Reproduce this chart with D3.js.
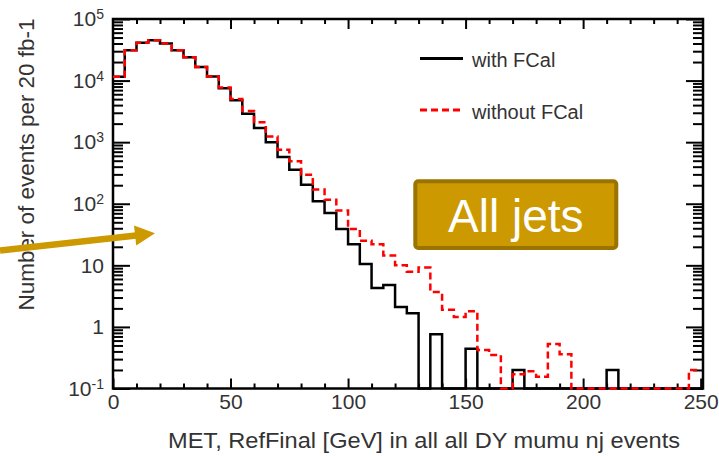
<!DOCTYPE html>
<html>
<head>
<meta charset="utf-8">
<script src="https://cdn.jsdelivr.net/npm/d3@7"></script>
<style>
body{margin:0;background:#fff;}
svg{display:block;font-family:"Liberation Sans",Arial,Helvetica,sans-serif;}
</style>
</head>
<body>
<svg id="chart" width="719" height="456"></svg>
<script>
// 5 GeV bins from 0 to 250
var binWidth = 5;
var binLow = d3.range(0, 250, binWidth);
var withFCal = [11500,31000,41000,45000,40000,31000,24000,16600,11700,7500,
                4800,2900,1700,1000,575,355,204,110,71,39,
                22,10.5,4.3,4.8,2.1,1.67,0,0.76,0,0,
                0.44,0,0,0,0.2,0,0,0,0,0,
                0,0,0.2,0,0,0,0,0,0,0];
var withoutFCal = [11500,31000,41000,45000,40000,31000,24000,16600,11700,7700,
                   5000,3200,2100,1240,755,490,296,170,116,78,
                   39,25,22,14.5,10,7.9,9.2,3.7,1.9,1.45,
                   1.8,0.42,0.35,0,0.17,0.19,0.155,0.53,0.36,0,
                   0,0,0,0,0,0,0,0,0,0.2];
var seriesNames = ["with FCal", "without FCal"];
var xTicks = [0, 50, 100, 150, 200, 250];
var xMinor = [10,20,30,40,60,70,80,90,110,120,130,140,160,170,180,190,210,220,230,240];
var yTicks = [0.1, 1, 10, 100, 1000, 10000, 100000];
var yTickLabels = [["10","-1"],["1",""],["10",""],["10","2"],["10","3"],["10","4"],["10","5"]];
var xTitle = "MET, RefFinal [GeV] in all all DY mumu nj events";
var yTitle = "Number of events per 20 fb-1";
var boxLabel = "All jets";

var plotL = 113, plotR = 703, plotT = 19, plotB = 388.5;
var gold = "#cc9900";

var svg = d3.select("#chart");

var x = d3.scaleLinear().domain([0, 251]).range([plotL, plotR]);
var y = d3.scaleLog().domain([0.1, 100000]).range([plotB, plotT]);

var yMinor = [];
for (var i = 0; i < yTicks.length - 1; i++) {
    for (var k = 2; k < 10; k++) yMinor.push(yTicks[i] * k);
}

function styleAxis(g) {
    g.select(".domain").remove();
    g.selectAll(".tick line").attr("stroke", "#000").attr("stroke-width", 2);
    g.selectAll(".tick text").attr("fill", "#333").attr("font-size", 21)
        .attr("font-family", "'Liberation Sans',Arial,sans-serif");
}

// bottom
svg.append("g").attr("transform", "translate(0," + plotB + ")")
    .call(d3.axisBottom(x).tickValues(xMinor).tickSize(-5).tickFormat(""))
    .call(styleAxis);
svg.append("g").attr("transform", "translate(0," + plotB + ")")
    .call(d3.axisBottom(x).tickValues(xTicks).tickSize(-10).tickPadding(6).tickFormat(d3.format("d")))
    .call(styleAxis);
// top
svg.append("g").attr("transform", "translate(0," + plotT + ")")
    .call(d3.axisTop(x).tickValues(xMinor).tickSize(-5).tickFormat(""))
    .call(styleAxis);
svg.append("g").attr("transform", "translate(0," + plotT + ")")
    .call(d3.axisTop(x).tickValues(xTicks.slice(1, -1)).tickSize(-10).tickFormat(""))
    .call(styleAxis);
// left
svg.append("g").attr("transform", "translate(" + plotL + ",0)")
    .call(d3.axisLeft(y).tickValues(yMinor).tickSize(-10).tickFormat(""))
    .call(styleAxis);
var yAx = svg.append("g").attr("transform", "translate(" + plotL + ",0)")
    .call(d3.axisLeft(y).tickValues(yTicks).tickSize(-17).tickPadding(9).tickFormat(""))
    .call(styleAxis);
yAx.selectAll(".tick text").each(function(d, i) {
    var t = d3.select(this);
    t.append("tspan").text(yTickLabels[i][0]);
    if (yTickLabels[i][1]) {
        t.append("tspan").attr("font-size", 14).attr("dy", -7).text(yTickLabels[i][1]);
    }
});
// right
svg.append("g").attr("transform", "translate(" + plotR + ",0)")
    .call(d3.axisRight(y).tickValues(yMinor).tickSize(-10).tickFormat(""))
    .call(styleAxis);
svg.append("g").attr("transform", "translate(" + plotR + ",0)")
    .call(d3.axisRight(y).tickValues(yTicks).tickSize(-17).tickFormat(""))
    .call(styleAxis);

// frame
svg.append("rect")
    .attr("x", plotL).attr("y", plotT)
    .attr("width", plotR - plotL).attr("height", plotB - plotT)
    .attr("fill", "none").attr("stroke", "#000").attr("stroke-width", 2.5);

// histograms
var line = d3.line()
    .x(function(d){ return x(d[0]); })
    .y(function(d){ return d[1] > 0 ? y(d[1]) : y(0.1); })
    .curve(d3.curveStepAfter);

function histPoints(vals) {
    var pts = binLow.map(function(b, i){ return [b, vals[i]]; });
    pts.push([250, vals[vals.length - 1]]);
    return pts;
}

svg.append("path").datum(histPoints(withFCal))
    .attr("d", line).attr("fill", "none")
    .attr("stroke", "#000").attr("stroke-width", 2.5);
svg.append("path").datum(histPoints(withoutFCal))
    .attr("d", line).attr("fill", "none")
    .attr("stroke", "#ff0000").attr("stroke-width", 2.5)
    .attr("stroke-dasharray", "7,4");

// legend
var legend = svg.append("g");
legend.append("line").attr("x1", 420).attr("x2", 463).attr("y1", 58.5).attr("y2", 58.5)
    .attr("stroke", "#000").attr("stroke-width", 3);
legend.append("text").attr("x", 472).attr("y", 66.5).attr("font-size", 20)
    .attr("fill", "#333").text(seriesNames[0]);
legend.append("line").attr("x1", 420).attr("x2", 464).attr("y1", 110).attr("y2", 110)
    .attr("stroke", "#ff0000").attr("stroke-width", 3).attr("stroke-dasharray", "7,4");
legend.append("text").attr("x", 472).attr("y", 119).attr("font-size", 20)
    .attr("fill", "#333").text(seriesNames[1]);

// titles
svg.append("text")
    .attr("x", 168).attr("y", 448)
    .attr("font-size", 22).attr("fill", "#333")
    .attr("textLength", 512).attr("lengthAdjust", "spacingAndGlyphs")
    .text(xTitle);
svg.append("text")
    .attr("transform", "translate(34,164.5) rotate(-90)")
    .attr("text-anchor", "middle")
    .attr("font-size", 22).attr("fill", "#333")
    .attr("textLength", 292).attr("lengthAdjust", "spacingAndGlyphs")
    .text(yTitle);

// "All jets" box
svg.append("rect")
    .attr("x", 415.3).attr("y", 181.3).attr("width", 201).attr("height", 66.7)
    .attr("rx", 3).attr("fill", gold).attr("stroke", "#9a7300").attr("stroke-width", 4);
svg.append("text")
    .attr("x", 515.8).attr("y", 231.7).attr("text-anchor", "middle")
    .attr("font-size", 46).attr("fill", "#fff").text(boxLabel);

// arrow
var tail = [0, 250.5], tip = [155, 233.3];
var ang = Math.atan2(tip[1] - tail[1], tip[0] - tail[0]);
var headLen = 20, headHalf = 10;
var base = [tip[0] - headLen * Math.cos(ang), tip[1] - headLen * Math.sin(ang)];
var px = -Math.sin(ang) * headHalf, py = Math.cos(ang) * headHalf;
svg.append("line")
    .attr("x1", tail[0]).attr("y1", tail[1]).attr("x2", base[0] + Math.cos(ang)).attr("y2", base[1] + Math.sin(ang))
    .attr("stroke", gold).attr("stroke-width", 6.5);
svg.append("polygon")
    .attr("points", [tip, [base[0] + px, base[1] + py], [base[0] - px, base[1] - py]].map(function(p){ return p.join(","); }).join(" "))
    .attr("fill", gold);
</script>
</body>
</html>
